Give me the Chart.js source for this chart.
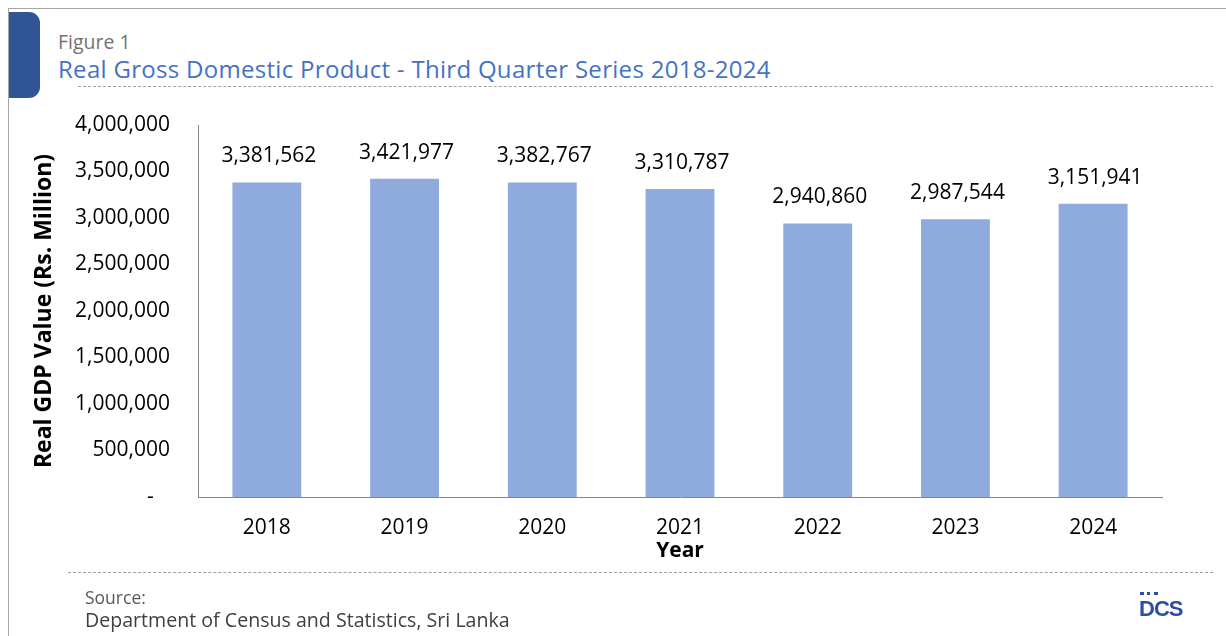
<!DOCTYPE html>
<html>
<head>
<meta charset="utf-8">
<script src="https://cdn.jsdelivr.net/npm/chart.js@4.4.0/dist/chart.umd.min.js"></script>
<style>
  html, body { margin: 0; padding: 0; background: #fff; }
  body { width: 1226px; height: 636px; position: relative; overflow: hidden; font-family: "Open Sans", sans-serif; }
  .frame-top { position: absolute; left: 8px; top: 8px; right: 0; border-top: 1px solid #a6a6a6; }
  .frame-left { position: absolute; left: 8px; top: 8px; bottom: 0; border-left: 1px solid #a6a6a6; }
  .tab { position: absolute; left: 9px; top: 12px; width: 31px; height: 86px; background: #2f5597; border-radius: 0 11px 11px 0; }
  .fig { position: absolute; left: 58px; top: 28px; font-size: 19.5px; color: #767171; }
  .title { position: absolute; left: 58px; top: 52px; font-size: 24px; letter-spacing: 0.3px; color: #4472c4; white-space: nowrap; }
  .dash-top { position: absolute; left: 78px; top: 86px; width: 1135px; border-top: 1.5px dashed #a0a0a0; }
  .dash-bot { position: absolute; left: 68px; top: 572px; width: 1145px; border-top: 1px dashed #a0a0a0; }
  .src1 { position: absolute; left: 85px; top: 585px; font-size: 17.5px; color: #595959; }
  .src2 { position: absolute; left: 85px; top: 606px; font-size: 19.6px; color: #404040; }
  .logo { position: absolute; left: 1139px; top: 590px; color: #2b4ea6; font: bold 22px "Liberation Sans", sans-serif; letter-spacing: -1px; }
  .logo .dots { position: absolute; left: 1px; top: 2px; width: 18px; border-top: 3px dotted #2b4ea6; }
  #wrap { position: absolute; left: 0; top: 0; width: 1226px; height: 636px; }
</style>
</head>
<body>
<div class="frame-top"></div>
<div class="frame-left"></div>
<div class="tab"></div>
<div class="fig">Figure 1</div>
<div class="title">Real Gross Domestic Product - Third Quarter Series 2018-2024</div>
<div class="dash-top"></div>
<div id="wrap"><canvas id="chart"></canvas></div>
<div class="dash-bot"></div>
<div class="src1">Source:</div>
<div class="src2">Department of Census and Statistics, Sri Lanka</div>
<div class="logo"><span class="dots"></span><span style="position:relative;top:6px">DCS</span></div>
<script>
const years = ['2018', '2019', '2020', '2021', '2022', '2023', '2024'];
const gdpValues = [3381562, 3421977, 3382767, 3310787, 2940860, 2987544, 3151941];
const yTicks = [0, 500000, 1000000, 1500000, 2000000, 2500000, 3000000, 3500000, 4000000];

const fmt = n => n.toLocaleString('en-US');

// value labels above each bar
const valueLabels = {
  id: 'valueLabels',
  afterDatasetsDraw(chart) {
    const ctx = chart.ctx;
    const meta = chart.getDatasetMeta(0);
    ctx.save();
    ctx.font = '21px "Open Sans", sans-serif';
    ctx.fillStyle = '#000';
    ctx.textAlign = 'center';
    ctx.textBaseline = 'middle';
    meta.data.forEach((bar, i) => {
      ctx.fillText(fmt(gdpValues[i]), bar.x + 2, bar.y - 26);
    });
    ctx.restore();
  }
};

new Chart(document.getElementById('chart'), {
  type: 'bar',
  data: {
    labels: years,
    datasets: [{
      data: gdpValues,
      backgroundColor: '#8faadc',
      borderWidth: 0,
      categoryPercentage: 1,
      barPercentage: 0.5
    }]
  },
  options: {
    responsive: true,
    maintainAspectRatio: false,
    animation: false,
    layout: { padding: { top: 125, left: 20, right: 64, bottom: 69 } },
    plugins: { legend: { display: false }, tooltip: { enabled: false } },
    scales: {
      x: {
        grid: { display: false, drawTicks: false },
        border: { color: '#868686', width: 1 },
        ticks: { color: '#000', font: { family: 'Open Sans', size: 21 }, padding: 18 },
        title: { display: true, text: 'Year', color: '#000', font: { family: 'Open Sans', size: 21, weight: 'bold' }, padding: { top: 0, bottom: 3 } },
        afterFit(scale) { scale.height = 70; }
      },
      y: {
        min: 0,
        max: 4000000,
        afterBuildTicks(scale) { scale.ticks = yTicks.map(v => ({ value: v })); },
        grid: { display: false, drawTicks: false },
        border: { color: '#868686', width: 1 },
        ticks: {
          color: '#000',
          font: { family: 'Open Sans', size: 21 },
          padding: 28,
          callback: v => v === 0 ? '-   ' : fmt(v)
        },
        title: { display: true, text: 'Real GDP Value (Rs. Million)', color: '#000', font: { family: 'Open Sans', size: 23, weight: 'bold' }, padding: { top: 11, bottom: 0 } },
        afterFit(scale) { scale.width = 178; }
      }
    }
  },
  plugins: [valueLabels]
});
</script>
</body>
</html>
